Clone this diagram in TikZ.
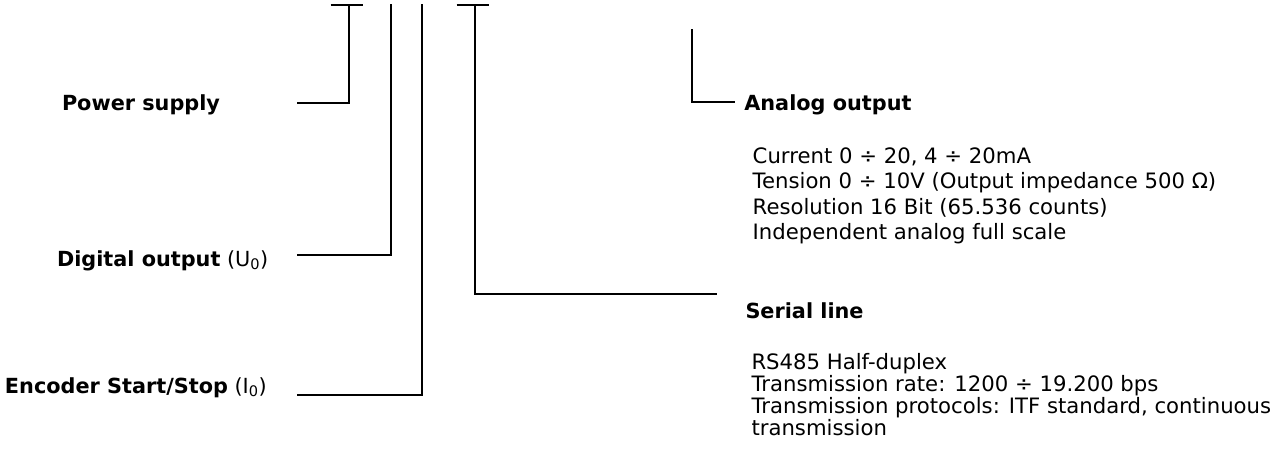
\documentclass[tikz,border=0pt]{standalone}
\usepackage{fontspec}
\setmainfont{DejaVu Sans}
\begin{document}
\begin{tikzpicture}[x=1pt,y=-1pt,
  wire/.style={line width=2pt},
  lbl/.style={anchor=base west,inner sep=0pt,outer sep=0pt,font=\fontsize{20.8}{25}\selectfont},
  txt/.style={anchor=base west,inner sep=0pt,outer sep=0pt,font=\fontsize{21.2}{25}\selectfont}]
\useasboundingbox (0,0) rectangle (1281,451);
% labels
\node[lbl] (ps) at (62,110) {\textbf{Power supply}};
\node[lbl] (do) at (57,266) {\textbf{Digital output} (U\textsubscript{0})};
\node[lbl] (en) at (5,393) {\textbf{Encoder Start/Stop} (I\textsubscript{0})};
\node[lbl] (ao) at (744.3,110) {\textbf{Analog output}};
\node[lbl] (sl) at (745.5,318) {\textbf{Serial line}};
\node[txt] (a1) at (752.7,163) {Current 0 ÷ 20, 4 ÷ 20mA};
\node[txt] (a2) at (752.7,188.5) {Tension 0 ÷ 10V (Output impedance 500 Ω)};
\node[txt] (a3) at (752.7,214) {Resolution 16 Bit (65.536 counts)};
\node[txt] (a4) at (752.7,239.5) {Independent analog full scale};
\node[txt] (s1) at (751.5,369.7) {RS485 Half-duplex};
\node[txt] (s2) at (751.5,391.7) {Transmission rate: 1200 ÷ 19.200 bps};
\node[txt] (s3) at (751.5,413.7) {Transmission protocols: ITF standard, continuous};
\node[txt] (s4) at (751.5,435.7) {transmission};
% coordinates
\coordinate (p0) at (349.3,4.7);
\coordinate (pl) at (330.7,4.7);
\coordinate (pr) at (363,4.7);
\coordinate (pc) at (349.3,102.7);
\coordinate (pe) at (296.7,102.7);
\coordinate (d0) at (390.8,4.3);
\coordinate (dc) at (390.8,254.7);
\coordinate (de) at (296.7,254.7);
\coordinate (e0) at (422.3,4.3);
\coordinate (ec) at (422.3,395);
\coordinate (ee) at (296.7,395);
\coordinate (s0) at (475,4.7);
\coordinate (sL) at (456.7,4.7);
\coordinate (sR) at (489,4.7);
\coordinate (sc) at (475,294.3);
\coordinate (se) at (716.7,294.3);
\coordinate (q0) at (691.7,29.3);
\coordinate (qc) at (691.7,102.3);
\coordinate (qe) at (735,102.3);
% wires
\draw[wire] (pl) -- (pr);
\draw[wire] (p0) -- (pc) -- (pe);
\draw[wire] (d0) -- (dc) -- (de);
\draw[wire] (e0) -- (ec) -- (ee);
\draw[wire] (sL) -- (sR);
\draw[wire] (s0) -- (sc) -- (se);
\draw[wire] (q0) -- (qc) -- (qe);
\end{tikzpicture}
\end{document}
